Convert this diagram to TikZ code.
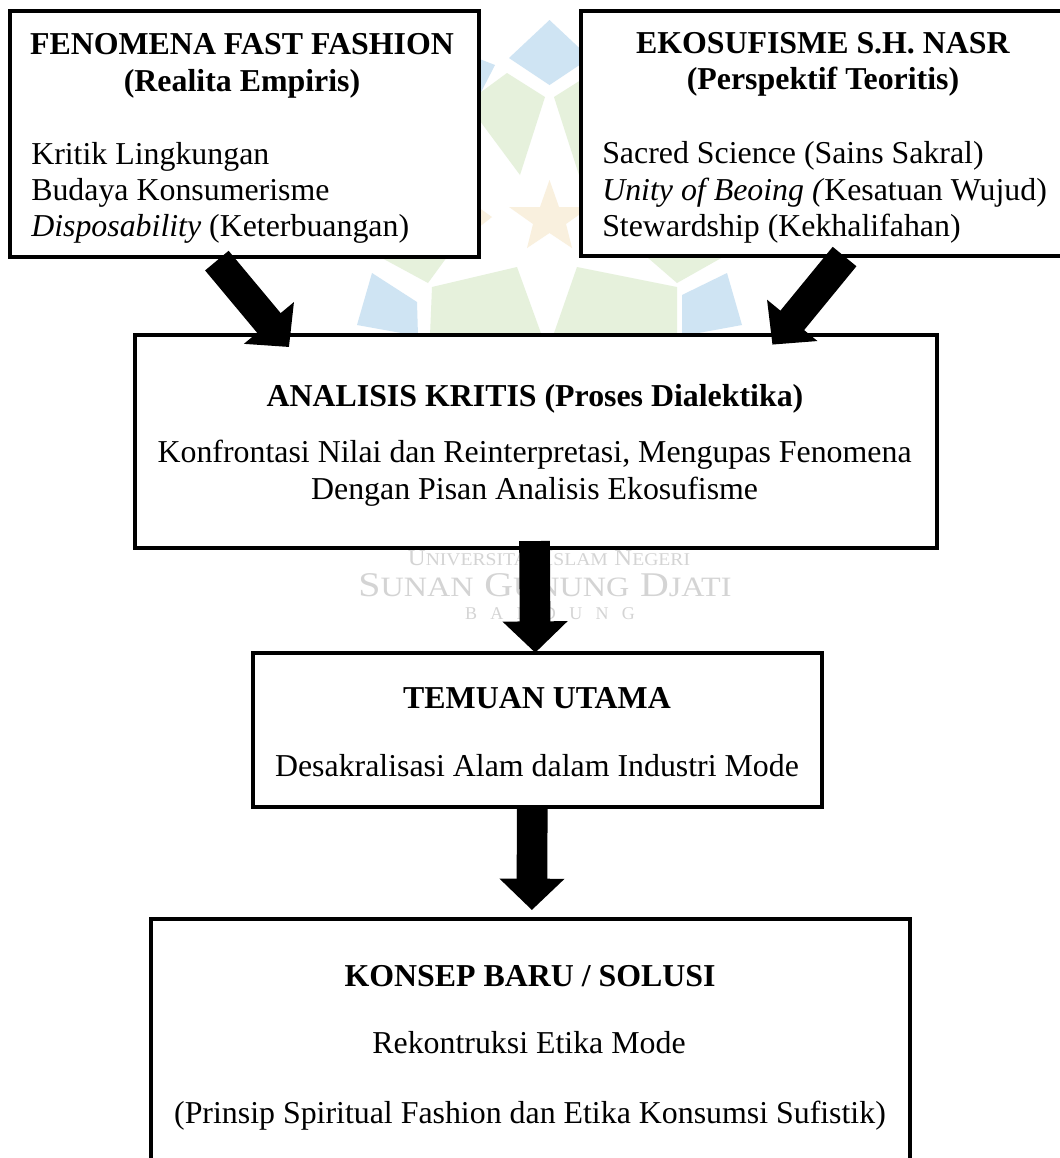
\documentclass[tikz,border=0pt]{standalone}
\usepackage{fontspec}
\setmainfont{Liberation Serif}
\usetikzlibrary{arrows.meta,calc}
\definecolor{wmblue}{RGB}{207,228,243}
\definecolor{wmgreen}{RGB}{230,241,220}
\definecolor{wmstar}{RGB}{249,240,222}
\definecolor{wmgrey}{RGB}{212,212,212}
\tikzset{
  flowbox/.style={draw=black,line width=3pt,fill=white,inner sep=0pt,outer sep=0pt,anchor=north west,rectangle},
  fatarrow/.style={draw=black,line width=23pt,-{Triangle[width=47.5pt,length=23.5pt]}},
  txt/.style={font=\fontsize{23.9pt}{28pt}\selectfont,inner sep=0pt,anchor=base},
  txtl/.style={font=\fontsize{23.9pt}{28pt}\selectfont,inner sep=0pt,anchor=base west},
  wmtxt/.style={text=wmgrey,inner sep=0pt,anchor=base,transform shape},
}
\newcommand{\wmA}[1]{{\fontsize{17pt}{20pt}\selectfont #1}}
\newcommand{\wmB}[1]{{\fontsize{13.5pt}{20pt}\selectfont #1}}
\newcommand{\wmC}[1]{{\fontsize{26pt}{34pt}\selectfont #1}}
\newcommand{\wmD}[1]{{\fontsize{21pt}{34pt}\selectfont #1}}
\begin{document}
\begin{tikzpicture}[x=0.75pt,y=-0.75pt]
\useasboundingbox (0,0) rectangle (1060,1158);
\fill[white] (0,0) rectangle (1060,1158);
% watermark
\fill[wmblue] (549.5,20) -- (509,58) -- (549.5,85) -- (590,58) -- cycle;
\fill[wmblue] (477,58) -- (495,65) -- (477,100) -- cycle;
\fill[wmgreen] (507,73) -- (545,97) -- (520,175) -- (477,117) -- (477,95) -- cycle;
\fill[wmgreen] (592,73) -- (554,97) -- (579,175) -- (622,117) -- cycle;
\fill[wmstar] (549.5,180) -- (559,207) -- (590,207) -- (566,224) -- (572,248) -- (549.5,233) -- (527,248) -- (533,224) -- (509,207) -- (540,207) -- cycle;
\fill[wmstar] (478,207) -- (492,217) -- (478,228) -- cycle;
\fill[wmgreen] (380,257) -- (447,257) -- (428,283) -- cycle;
\fill[wmgreen] (432,287) -- (517,267) -- (542,336) -- (430,336) -- cycle;
\fill[wmblue] (372,273) -- (417,302) -- (418,336) -- (357,325) -- cycle;
\fill[wmgreen] (647,257) -- (723,257) -- (677,283) -- cycle;
\fill[wmgreen] (577,267) -- (677,287) -- (677,336) -- (553,336) -- cycle;
\fill[wmblue] (682,295) -- (727,273) -- (742,325) -- (682,336) -- cycle;
\node[wmtxt,xscale=1.09] (wm1) at (549,565) {\wmA{U}\wmB{NIVERSITAS}\hspace{4.5pt}\wmA{I}\wmB{SLAM}\hspace{4.5pt}\wmA{N}\wmB{EGERI}};
\node[wmtxt,xscale=1.15] (wm2) at (545,596) {\wmC{S}\wmD{UNAN}\hspace{7pt}\wmC{G}\wmD{UNUNG}\hspace{7pt}\wmC{D}\wmD{JATI}};
\node[wmtxt] (wm3) at (550,619) {\wmB{B\hspace{10pt}A\hspace{10pt}N\hspace{10pt}D\hspace{10pt}U\hspace{10pt}N\hspace{10pt}G}};
% boxes
\node[flowbox,minimum width=352pt,minimum height=184.5pt] (boxA) at (9.5,11) {};
\node[flowbox,minimum width=400pt,minimum height=184pt] (boxB) at (581,11) {};
\node[flowbox,minimum width=601.5pt,minimum height=160pt] (boxC) at (135,335) {};
\node[flowbox,minimum width=427pt,minimum height=115.5pt] (boxD) at (253,652.5) {};
\node[flowbox,minimum width=569.5pt,minimum height=200pt] (boxE) at (151,919.3) {};
% text
\node[txt] (a1) at (242,54) {\textbf{FENOMENA FAST FASHION}};
\node[txt] (a2) at (242,91) {\textbf{(Realita Empiris)}};
\node[txtl] (a3) at (31,164) {Kritik Lingkungan};
\node[txtl] (a4) at (31,200.5) {Budaya Konsumerisme};
\node[txtl] (a5) at (31,236.5) {\textit{Disposability} (Keterbuangan)};
\node[txt] (b1) at (823,53) {\textbf{EKOSUFISME S.H. NASR}};
\node[txt] (b2) at (823,89) {\textbf{(Perspektif Teoritis)}};
\node[txtl] (b3) at (602,163) {Sacred Science (Sains Sakral)};
\node[txtl] (b4) at (602,200) {\textit{Unity of Beoing (}Kesatuan Wujud)};
\node[txtl] (b5) at (602,236) {Stewardship (Kekhalifahan)};
\node[txt] (c1) at (535,406.7) {\textbf{ANALISIS KRITIS (Proses Dialektika)}};
\node[txt] (c2) at (534.6,462.7) {Konfrontasi Nilai dan Reinterpretasi, Mengupas Fenomena};
\node[txt] (c3) at (534.6,499.3) {Dengan Pisan Analisis Ekosufisme};
\node[txt] (d1) at (537,708.3) {\textbf{TEMUAN UTAMA}};
\node[txt] (d2) at (537,776) {Desakralisasi Alam dalam Industri Mode};
\node[txt] (e1) at (530,986) {\textbf{KONSEP BARU / SOLUSI}};
\node[txt] (e2) at (529,1053.3) {Rekontruksi Etika Mode};
\node[txt] (e3) at (530,1123) {(Prinsip Spiritual Fashion dan Etika Konsumsi Sufistik)};
% arrows
\draw[fatarrow] ([shift={(-27.3,3.6)}]boxA.south) -- ([shift={(-247,12)}]boxC.north);
\draw[fatarrow] ([shift={(-3.1,0.2)}]boxB.south) -- ([shift={(236.4,9.6)}]boxC.north);
\draw[fatarrow] ([shift={(-1.5,-7.3)}]boxC.south) -- ([shift={(-2.4,0.2)}]boxD.north);
\draw[fatarrow] ([shift={(-5.4,-0.7)}]boxD.south) -- ([shift={(1.2,-9.3)}]boxE.north);
\end{tikzpicture}
\end{document}
